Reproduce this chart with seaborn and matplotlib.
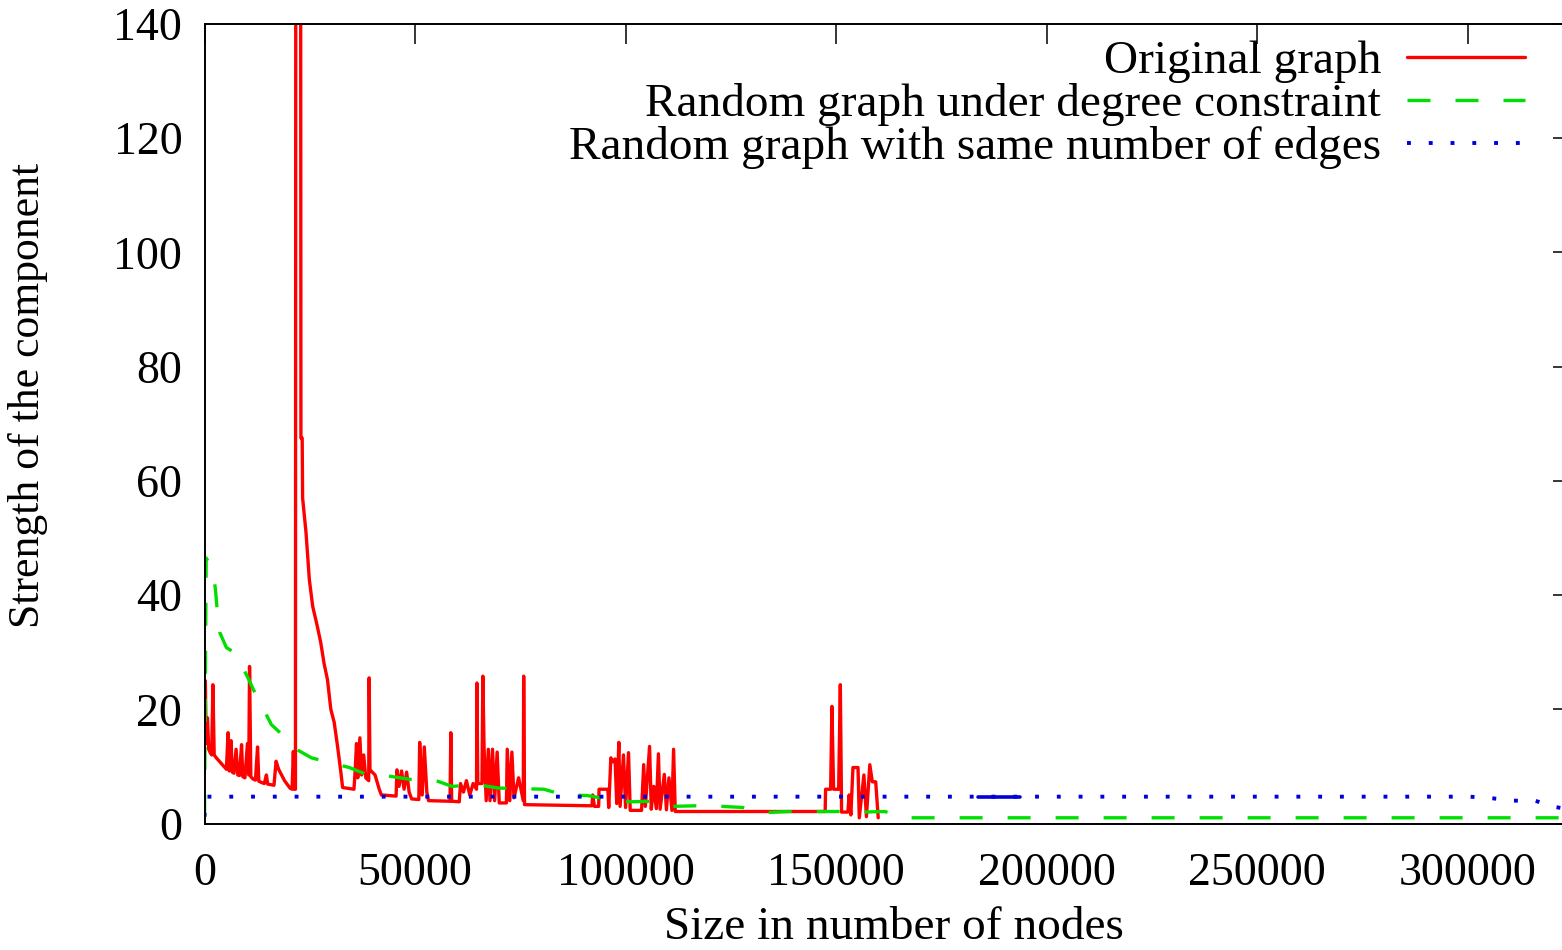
import matplotlib

matplotlib.use("Agg")
import matplotlib.pyplot as plt
import pandas as pd
import seaborn as sns

# Original graph
orig_x = [
    0, 200, 400, 700, 1000, 1300, 1700, 2000, 2300, 2800, 3400, 4000, 4600, 5200,
    5600, 5900, 6300, 6600, 7000, 7500, 7900, 8300, 8800, 9100, 9600, 10200,
    10500, 10700, 11000, 11500, 12100, 12600, 12900, 13500, 14200, 14700, 15000,
    15800, 16500, 17000, 17600, 18300, 19000, 19700, 20300, 20800, 21100, 21300,
    21600, 21700, 22800, 22900, 23200, 23300, 24100, 24900, 25700, 26800, 27600,
    28400, 29200, 30000, 30800, 31600, 32400, 32800, 35500, 35800, 36100, 36400,
    36900, 37300, 37800, 38300, 39000, 39100, 39300, 40500, 41500, 42000, 45500,
    45700, 46200, 46800, 47400, 48000, 48600, 49200, 50900, 51100, 51700, 52200,
    52800, 53200, 58300, 58500, 58700, 60500, 60800, 61500, 62200, 63000, 63800,
    64600, 64700, 64900, 65900, 66100, 66400, 66900, 67400, 67800, 68400, 68900,
    69500, 70000, 71700, 71900, 72500, 73000, 73500, 74600, 75700, 75800, 76000,
    92000, 92200, 92600, 93600, 93700, 95800, 96000, 96500, 97000, 97500, 97900,
    98400, 98700, 99500, 100000, 100700, 101100, 103800, 104300, 104700, 105700,
    106100, 106700, 107300, 107800, 108200, 109200, 109700, 110300, 111000,
    111400, 111800, 147400, 147500, 148700, 149000, 149400, 150600, 151000,
    151300, 152800, 153100, 153500, 154000, 155200, 155500, 156600, 157200,
    158000, 158600, 159400, 160000,
]
orig_y = [
    17, 25, 14, 18.5, 13, 12.5, 12, 24.3, 12, 11.5, 11, 10.5, 10, 9.5,
    15.9, 9.2, 14.5, 9, 8.8, 13, 8.5, 8.4, 13.8, 8.2, 8, 14,
    8.5, 27.5, 8.2, 7.8, 7.6, 13.4, 7.4, 7.2, 7, 8.5, 6.9,
    6.8, 6.7, 10.9, 9.5, 8.5, 7.5, 6.8, 6.2, 6, 12.6, 6,
    6, 200, 200, 67.5, 67.5, 57, 51, 42.7, 38, 34.5, 31.7,
    28, 25.2, 20, 17.7, 13.5, 8.9, 6.3, 6.0, 9.5, 14, 8,
    15, 8.5, 12, 8, 7.5, 25.5, 9.4, 8.5, 6, 5, 4.8,
    9.4, 6.5, 9.2, 6, 9, 5.5, 4.3, 4.2, 14.2, 5, 13.4,
    5.5, 4.0, 3.9, 15.9, 3.9, 3.8, 7, 5.5, 7.5, 5, 7,
    6, 24.6, 7, 7, 25.8, 13, 4, 13, 4, 13, 4,
    12.5, 3.6, 3.6, 13, 4, 12.5, 4.5, 8, 4, 25.8, 3.3,
    3.1, 5, 3, 3, 6, 6, 2.8, 11.5, 10.8, 11.3, 3.5,
    14.2, 3, 12, 2.8, 12.4, 2.3, 2.3, 10.3, 3, 13.5,
    2.5, 6.5, 2.6, 12.2, 2.5, 8.6, 2.4, 8, 2.3,
    13, 2.1, 2.1, 6, 6, 20.5, 6, 6, 24.3,
    2, 2, 5, 1.5, 9.8, 9.8, 1, 8.5, 1.2,
    10.3, 7.3, 7.3, 1.0,
]

# Random graph under degree constraint
degree_x = [
    0, 400, 1900, 2600, 3000, 3600, 5200, 7000, 8300, 10200, 11900, 13800, 15900,
    19000, 20500, 21800, 25400, 29600, 34400, 38400, 43800, 49100, 55000, 58800,
    64700, 69900, 75400, 80600, 85300, 90800, 96500, 101200, 106700, 110900,
    116800, 122800, 128000, 133200, 138600, 144600, 150500, 156000, 161600,
    166000, 325000,
]
degree_y = [
    1.0, 46.5, 44.5, 41, 37.5, 33.5, 30.8, 30, 28.4, 25.7, 23, 20.3, 17.3,
    15.2, 14, 13, 11.5, 10.7, 9.8, 8.6, 8.3, 7.7, 7.5, 6.5,
    6.8, 6.2, 6.1, 6.0, 5.0, 4.9, 4.2, 3.8, 3.9, 3.0,
    3.1, 3.0, 2.8, 1.9, 2.1, 2.1, 2.1, 2.0, 2.1,
    1.0, 1.0,
]

# Random graph with same number of edges
edges_x = [0, 300, 183700, 193600, 300500, 306000, 310700, 316000, 320000, 323000]
edges_y = [1.2, 4.7, 4.7, 4.7, 4.7, 4.4, 4.0, 4.0, 3.0, 2.6]
# stretch where the dotted line is drawn solid (dense points)
dense_x = [183700, 193600]
dense_y = [4.7, 4.7]

x_ticks = [0, 50000, 100000, 150000, 200000, 250000, 300000]
y_ticks = [0, 20, 40, 60, 80, 100, 120, 140]

labels = [
    "Original graph",
    "Random graph under degree constraint",
    "Random graph with same number of edges",
]

sns.set_style("white")
plt.rcParams["font.family"] = ["Liberation Serif", "DejaVu Serif"]
plt.rcParams["font.size"] = 33
plt.rcParams["text.color"] = "black"
plt.rcParams["axes.labelcolor"] = "black"
plt.rcParams["xtick.color"] = "black"
plt.rcParams["ytick.color"] = "black"

fig = plt.figure(figsize=(15.62, 9.5), dpi=100)
ax = fig.add_axes([204.5 / 1562, 1 - 823.5 / 950, (1573 - 204.5) / 1562, 799.5 / 950])

orig_df = pd.DataFrame({"x": orig_x, "y": orig_y})
degree_df = pd.DataFrame({"x": degree_x, "y": degree_y})
edges_df = pd.DataFrame({"x": edges_x, "y": edges_y})
dense_df = pd.DataFrame({"x": dense_x, "y": dense_y})

sns.lineplot(data=orig_df, x="x", y="y", ax=ax, color="#ff0000", linewidth=2.4,
             sort=False, estimator=None, label=labels[0])
sns.lineplot(data=degree_df, x="x", y="y", ax=ax, color="#00e000", linewidth=2.4,
             linestyle=(0, (6.9, 7.5)), sort=False, estimator=None, label=labels[1])
sns.lineplot(data=edges_df, x="x", y="y", ax=ax, color="#0000dd", linewidth=2.8,
             linestyle=(0, (1, 4.6)), sort=False, estimator=None, label=labels[2])
sns.lineplot(data=dense_df, x="x", y="y", ax=ax, color="#0000dd", linewidth=2.6,
             sort=False, estimator=None, legend=False)

ax.set_xlim(0, 325000)
ax.set_ylim(0, 140)
ax.set_xticks(x_ticks)
ax.set_yticks(y_ticks)
ax.set_xticklabels([str(v) for v in x_ticks])
ax.tick_params(direction="in", length=14.4, width=1.1, top=True, right=True,
               labelsize=33, color="black", labelcolor="black")
ax.tick_params(axis="x", pad=21)
ax.tick_params(axis="y", pad=16)
for spine in ax.spines.values():
    spine.set_color("black")
    spine.set_linewidth(1.4)

ax.set_xlabel("Size in number of nodes", fontsize=34)
ax.set_ylabel("Strength of the component", fontsize=31.5)
ax.xaxis.set_label_coords(0.504, -0.104)
ax.yaxis.set_label_coords(-0.114, 0.535)

handles, _ = ax.get_legend_handles_labels()
ax.legend(handles=handles[:3], labels=labels, loc="upper right",
          bbox_to_anchor=((1525 - 204.5) / (1573 - 204.5), (823.5 - 40) / 799.5),
          frameon=False, markerfirst=False, fontsize=34, handlelength=2.5,
          handletextpad=0.55, labelspacing=0.0, borderaxespad=0, borderpad=0)

fig.savefig("out.png", dpi=100)
